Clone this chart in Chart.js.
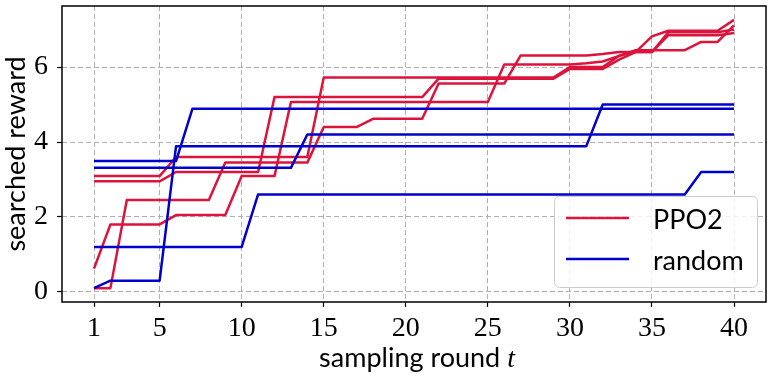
<!DOCTYPE html>
<html><head><meta charset="utf-8">
<script src="https://cdn.jsdelivr.net/npm/chart.js@4.4.1/dist/chart.umd.min.js"></script>
<style>html,body{margin:0;padding:0;background:#fff}#wrap{width:773px;height:376px;position:relative}</style>
</head><body><div id="wrap"><canvas id="c"></canvas></div>
<script>
// ---- data ----
const rounds = [1,2,3,4,5,6,7,8,9,10,11,12,13,14,15,16,17,18,19,20,21,22,23,24,25,26,27,28,29,30,31,32,33,34,35,36,37,38,39,40];
const xTicks = [1,5,10,15,20,25,30,35,40];
const yTicks = [0,2,4,6];
const legendLabels = ['PPO2','random'];
const xTitle = 'sampling round ';
const xTitleVar = 't';
const yTitle = 'searched reward';

const ppo2Run1 = [3.09,3.09,3.09,3.09,3.09,3.6,3.6,3.6,3.6,3.6,3.6,3.6,3.6,3.6,5.72,5.72,5.72,5.72,5.72,5.72,5.72,5.72,5.72,5.72,5.72,5.72,5.72,5.72,5.72,6.0,6.0,6.0,6.3,6.4,6.82,6.97,6.97,6.97,6.97,7.26];
const ppo2Run2 = [2.95,2.95,2.95,2.95,2.95,3.2,3.2,3.2,3.2,3.2,3.2,5.2,5.2,5.2,5.2,5.2,5.2,5.2,5.2,5.2,5.2,5.69,5.69,5.69,5.69,5.69,5.69,5.69,5.69,5.95,5.95,5.95,6.2,6.4,6.4,6.93,6.93,6.93,6.93,7.0];
const ppo2Run3 = [0.62,1.8,1.8,1.8,1.8,2.05,2.05,2.05,2.05,3.09,3.09,3.09,5.07,5.07,5.07,5.07,5.07,5.07,5.07,5.07,5.07,5.07,5.07,5.07,5.07,6.07,6.07,6.07,6.07,6.07,6.1,6.15,6.3,6.45,6.45,6.45,6.45,6.67,6.67,7.11];
const ppo2Run4 = [0.1,0.1,2.45,2.45,2.45,2.45,2.45,2.45,3.45,3.45,3.45,3.45,3.45,3.45,4.4,4.4,4.4,4.62,4.62,4.62,4.62,5.56,5.56,5.56,5.56,5.56,6.31,6.31,6.31,6.31,6.31,6.35,6.4,6.4,6.4,6.85,6.85,6.85,6.85,6.91];

const randomRun1 = [0.1,0.3,0.3,0.3,0.3,3.89,3.89,3.89,3.89,3.89,3.89,3.89,3.89,3.89,3.89,3.89,3.89,3.89,3.89,3.89,3.89,3.89,3.89,3.89,3.89,3.89,3.89,3.89,3.89,3.89,3.89,5.0,5.0,5.0,5.0,5.0,5.0,5.0,5.0,5.0];
const randomRun2 = [3.49,3.49,3.49,3.49,3.49,3.49,4.89,4.89,4.89,4.89,4.89,4.89,4.89,4.89,4.89,4.89,4.89,4.89,4.89,4.89,4.89,4.89,4.89,4.89,4.89,4.89,4.89,4.89,4.89,4.89,4.89,4.89,4.89,4.89,4.89,4.89,4.89,4.89,4.89,4.89];
const randomRun3 = [3.31,3.31,3.31,3.31,3.31,3.31,3.31,3.31,3.31,3.31,3.31,3.31,3.31,4.2,4.2,4.2,4.2,4.2,4.2,4.2,4.2,4.2,4.2,4.2,4.2,4.2,4.2,4.2,4.2,4.2,4.2,4.2,4.2,4.2,4.2,4.2,4.2,4.2,4.2,4.2];
const randomRun4 = [1.2,1.2,1.2,1.2,1.2,1.2,1.2,1.2,1.2,1.2,2.6,2.6,2.6,2.6,2.6,2.6,2.6,2.6,2.6,2.6,2.6,2.6,2.6,2.6,2.6,2.6,2.6,2.6,2.6,2.6,2.6,2.6,2.6,2.6,2.6,2.6,2.6,3.2,3.2,3.2];

// ---- style ----
const RED = '#dc143c';
const BLUE = '#0000cd';
const SERIF = '"Liberation Serif", "DejaVu Serif", serif';
const SANS = 'Lato, "Open Sans", sans-serif';

function mk(vals, color, group){
  return {
    label: group,
    data: rounds.map((r,i)=>({x:r, y:vals[i]})),
    borderColor: color, backgroundColor: color,
    borderWidth: 2.5, pointRadius: 0, tension: 0, fill: false,
    borderJoinStyle: 'round', borderCapStyle: 'butt'
  };
}
// blue first so it is drawn on top (Chart.js draws index 0 last)
const datasets = [
  mk(randomRun1, BLUE, legendLabels[1]),
  mk(randomRun2, BLUE, legendLabels[1]),
  mk(randomRun3, BLUE, legendLabels[1]),
  mk(randomRun4, BLUE, legendLabels[1]),
  mk(ppo2Run1, RED, legendLabels[0]),
  mk(ppo2Run2, RED, legendLabels[0]),
  mk(ppo2Run3, RED, legendLabels[0]),
  mk(ppo2Run4, RED, legendLabels[0])
];

const deco = {
  id: 'deco',
  afterDraw(chart){
    const ctx = chart.ctx, a = chart.chartArea;
    ctx.save();
    ctx.setLineDash([]);
    // frame
    ctx.strokeStyle = '#000'; ctx.lineWidth = 1.5;
    ctx.strokeRect(a.left, a.top, a.right - a.left, a.bottom - a.top);
    // legend
    const lw = 203, lh = 91;
    const lx = a.right - 9 - lw, ly = a.bottom - 15 - lh;
    ctx.beginPath();
    ctx.roundRect(lx + 0.5, ly + 0.5, lw, lh, 5);
    ctx.fillStyle = 'rgba(255,255,255,0.8)'; ctx.fill();
    ctx.strokeStyle = '#cccccc'; ctx.lineWidth = 1; ctx.stroke();
    const cols = [RED, BLUE];
    ctx.font = '27px ' + SANS; ctx.fillStyle = '#000';
    ctx.textBaseline = 'alphabetic'; ctx.textAlign = 'left';
    for (let i = 0; i < 2; i++){
      const yy = ly + 22 + i * 41;
      ctx.beginPath(); ctx.moveTo(lx + 12, yy); ctx.lineTo(lx + 75, yy);
      ctx.strokeStyle = cols[i]; ctx.lineWidth = 2.5; ctx.stroke();
      ctx.fillText(legendLabels[i], lx + 99, yy + 10.5);
    }
    // x title
    ctx.font = '27px ' + SANS;
    const w1 = ctx.measureText(xTitle).width;
    ctx.font = 'italic 28px ' + SERIF;
    const w2 = ctx.measureText(xTitleVar).width;
    const cx = (a.left + a.right) / 2 + 3;
    let sx = cx - (w1 + w2) / 2;
    ctx.font = '27px ' + SANS; ctx.fillText(xTitle, sx, 367);
    ctx.font = 'italic 28px ' + SERIF; ctx.fillText(xTitleVar, sx + w1, 367);
    // y title
    ctx.translate(25, (a.top + a.bottom) / 2);
    ctx.rotate(-Math.PI / 2);
    ctx.font = '27px ' + SANS; ctx.textAlign = 'center';
    ctx.fillText(yTitle, 0, 0);
    ctx.restore();
  }
};

const gridCommon = {
  color: '#b0b0b0', lineWidth: 1,
  tickColor: '#000', tickLength: 5, tickWidth: 1.2, tickBorderDash: []
};

new Chart(document.getElementById('c'), {
  type: 'line',
  data: { datasets },
  options: {
    responsive: true, maintainAspectRatio: false, animation: false,
    devicePixelRatio: 1,
    layout: { padding: { top: 6, right: 7, left: 0, bottom: 0 } },
    plugins: { legend: { display: false }, tooltip: { enabled: false } },
    scales: {
      x: {
        type: 'linear', min: -0.95, max: 41.95,
        afterBuildTicks: s => { s.ticks = xTicks.map(v => ({ value: v })); },
        afterFit: s => { s.height = 74; s.paddingLeft = 0; s.paddingRight = 0; },
        grid: gridCommon,
        border: { display: false, dash: [5, 3] },
        ticks: { font: { family: SERIF, size: 28 }, color: '#000', padding: 5, maxRotation: 0, autoSkip: false }
      },
      y: {
        type: 'linear', min: -0.27, max: 7.63,
        afterBuildTicks: s => { s.ticks = yTicks.map(v => ({ value: v })); },
        afterFit: s => { s.width = 62; s.paddingTop = 0; s.paddingBottom = 0; },
        grid: gridCommon,
        border: { display: false, dash: [5, 3] },
        ticks: { font: { family: SERIF, size: 28 }, color: '#000', padding: 9 }
      }
    }
  },
  plugins: [deco]
});
</script></body></html>
